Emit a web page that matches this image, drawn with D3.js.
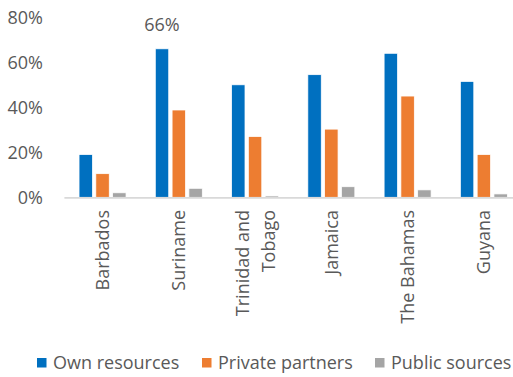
<!DOCTYPE html>
<html>
<head>
<meta charset="utf-8">
<script src="https://cdn.jsdelivr.net/npm/d3@7"></script>
<style>
  html, body { margin: 0; padding: 0; background: #fff; }
  svg { display: block; }
  text { font-family: "Open Sans", "DejaVu Sans", sans-serif; fill: #595959; }
</style>
</head>
<body>
<svg id="chart" width="513" height="377"></svg>
<script>
// Funding sources by country (share of respondents)
const categories = ["Barbados", "Suriname", "Trinidad and Tobago", "Jamaica", "The Bahamas", "Guyana"];
const seriesNames = ["Own resources", "Private partners", "Public sources"];
const ownResources = [19, 66, 50, 54.5, 64, 51.5];
const privatePartners = [10.5, 38.8, 27, 30.3, 45, 19];
const publicSources = [2, 4, 0.6, 4.7, 3.3, 1.5];
const yTicks = [0, 20, 40, 60, 80];
const colors = ["#0070C0", "#ED7D31", "#A5A5A5"];
const valueLabels = [{ category: "Suriname", series: 0, text: "66%" }];

const series = [ownResources, privatePartners, publicSources];

const svg = d3.select("#chart");

const y = d3.scaleLinear().domain([0, 80]).range([197.3, 17.3]);
const x0 = d3.scaleBand().domain(categories).range([64.4, 522]).padding(0);
const x1 = d3.scaleBand().domain(d3.range(seriesNames.length)).range([0, 47]).paddingInner(0.2).paddingOuter(0);
const groupLeft = c => x0(c) + x0.bandwidth() / 2 - 23.5;

// y-axis labels only (no line, no gridlines)
const yAxis = d3.axisLeft(y).tickValues(yTicks).tickFormat(d => d + "%").tickSize(0).tickPadding(0);
const yg = svg.append("g").attr("transform", "translate(43,0)").call(yAxis);
yg.select(".domain").remove();
yg.selectAll("text")
  .attr("font-size", 18)
  .attr("font-family", null)
  .attr("fill", "#595959")
  .attr("dy", "0.36em");

// bars
const groups = svg.append("g").selectAll("g")
  .data(categories)
  .join("g")
  .attr("transform", c => `translate(${groupLeft(c)},0)`);

groups.selectAll("rect")
  .data((c, i) => series.map((s, k) => ({ k, v: s[i] })))
  .join("rect")
  .attr("x", d => x1(d.k))
  .attr("width", x1.bandwidth())
  .attr("y", d => y(d.v))
  .attr("height", d => y(0) - y(d.v))
  .attr("fill", d => colors[d.k])
  .attr("stroke", "#fff")
  .attr("stroke-width", 0.75);

// category axis line
svg.append("line")
  .attr("x1", x0.range()[0]).attr("x2", x0.range()[1])
  .attr("y1", y(0) + 0.5).attr("y2", y(0) + 0.5)
  .attr("stroke", "#D9D9D9").attr("stroke-width", 1.75);

// rotated category labels, wrapped where needed
const wrapLines = { "Trinidad and Tobago": ["Trinidad and", "Tobago"] };
const lineGap = 26;
categories.forEach(c => {
  const lines = wrapLines[c] || [c];
  const cx = x0(c) + x0.bandwidth() / 2;
  lines.forEach((t, j) => {
    const off = (j - (lines.length - 1) / 2) * lineGap;
    svg.append("text")
      .attr("transform", `translate(${cx + off},210) rotate(-90)`)
      .attr("text-anchor", "end")
      .attr("dy", "0.36em")
      .attr("font-size", 18)
      .text(t);
  });
});

// value label
valueLabels.forEach(l => {
  const i = categories.indexOf(l.category);
  const v = series[l.series][i];
  svg.append("text")
    .attr("x", groupLeft(l.category) + x1(l.series) + x1.bandwidth() / 2)
    .attr("y", y(v) - 18)
    .attr("text-anchor", "middle")
    .attr("font-size", 18)
    .text(l.text);
});

// legend
const legendX = [37, 202, 375];
const legend = svg.append("g").selectAll("g")
  .data(seriesNames)
  .join("g")
  .attr("transform", (d, i) => `translate(${legendX[i]},358)`);
legend.append("rect").attr("width", 9.5).attr("height", 9.5).attr("fill", (d, i) => colors[i]);
legend.append("text")
  .attr("x", 16).attr("y", 5).attr("dy", "0.36em")
  .attr("font-size", 18)
  .text(d => d);
</script>
</body>
</html>
